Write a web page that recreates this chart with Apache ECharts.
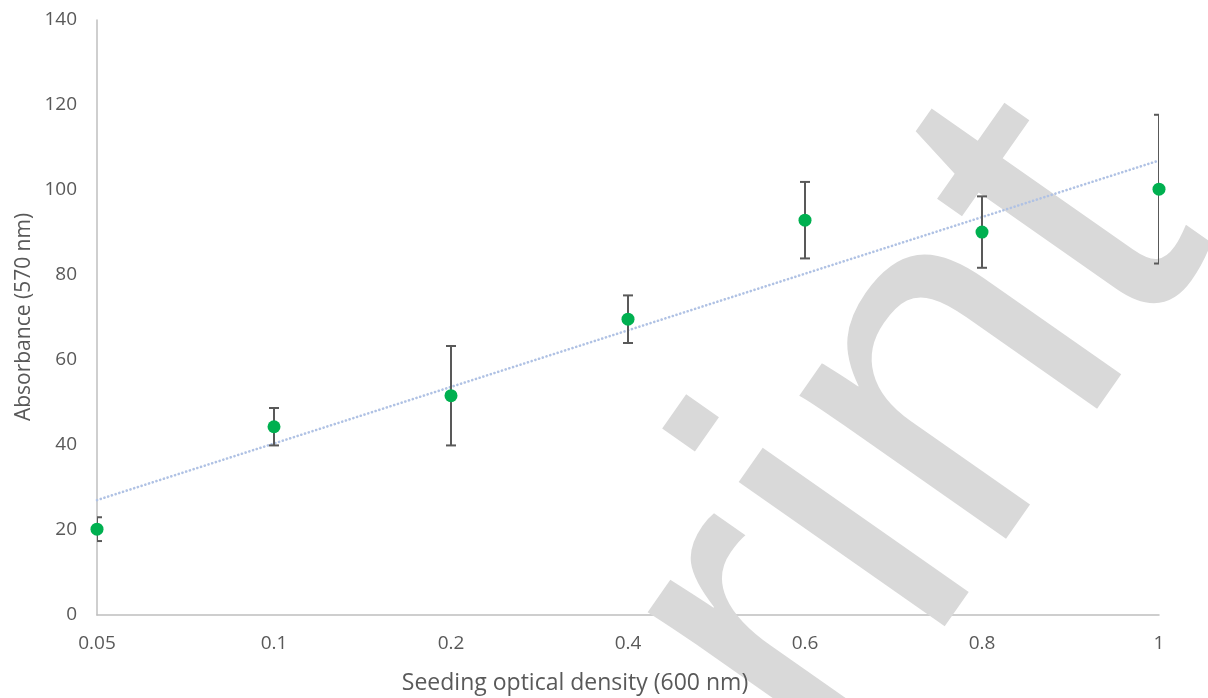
<!DOCTYPE html>
<html>
<head>
<meta charset="utf-8">
<title>Absorbance vs seeding optical density</title>
<script src="https://cdn.jsdelivr.net/npm/echarts@6/dist/echarts.min.js"></script>
<style>
  html, body { margin: 0; padding: 0; background: #ffffff; }
  #chart { width: 1208px; height: 698px; }
</style>
</head>
<body>
<div id="chart"></div>
<script>
// Seeding optical density (600 nm) groups
const categories = ['0.05', '0.1', '0.2', '0.4', '0.6', '0.8', '1'];
// Mean absorbance (570 nm) per group
const means = [20.2, 44.3, 51.6, 69.6, 92.9, 90.1, 100.2];
// Error bar half-widths per group
const errors = [2.8, 4.4, 11.7, 5.6, 9.0, 8.4, 17.5];
// Value axis range
const yMin = 0, yMax = 140, yStep = 20;
// Background stamp text
const watermarkText = 'rint';

const FONT = '"Open Sans", "Noto Sans", sans-serif';
const TEXT = '#595959';

// Least-squares linear trend over the category positions
function linearTrend(values) {
  const n = values.length;
  let sx = 0, sy = 0, sxx = 0, sxy = 0;
  values.forEach((v, i) => { sx += i; sy += v; sxx += i * i; sxy += i * v; });
  const slope = (n * sxy - sx * sy) / (n * sxx - sx * sx);
  const intercept = (sy - slope * sx) / n;
  return values.map((_, i) => [i, intercept + slope * i]);
}

const errorData = means.map((m, i) => [i, m - errors[i], m + errors[i]]);

function renderErrorBar(params, api) {
  const idx = api.value(0);
  const top = api.coord([idx, api.value(2)]);
  const bot = api.coord([idx, api.value(1)]);
  const half = 5;
  const style = { stroke: '#595959', lineWidth: 2 };
  return {
    type: 'group',
    children: [
      { type: 'line', shape: { x1: top[0], y1: top[1], x2: bot[0], y2: bot[1] }, style },
      { type: 'line', shape: { x1: top[0] - half, y1: top[1], x2: top[0] + half, y2: top[1] }, style },
      { type: 'line', shape: { x1: bot[0] - half, y1: bot[1], x2: bot[0] + half, y2: bot[1] }, style }
    ]
  };
}

const chart = echarts.init(document.getElementById('chart'), null, { renderer: 'canvas' });

chart.setOption({
  backgroundColor: '#ffffff',
  animation: false,
  grid: { left: 97, right: 49, top: 20, bottom: 83, containLabel: false },
  xAxis: {
    type: 'category',
    data: categories,
    boundaryGap: false,
    axisLine: { show: true, lineStyle: { color: '#bfbfbf', width: 1.5 } },
    axisTick: { show: false },
    axisLabel: { color: TEXT, fontFamily: FONT, fontSize: 19, margin: 19 },
    splitLine: { show: false }
  },
  yAxis: {
    type: 'value',
    min: yMin,
    max: yMax,
    interval: yStep,
    axisLine: { show: true, lineStyle: { color: '#bfbfbf', width: 1.5 } },
    axisTick: { show: false },
    axisLabel: { color: TEXT, fontFamily: FONT, fontSize: 19, margin: 20 },
    splitLine: { show: false }
  },
  graphic: [
    {
      type: 'text',
      z: 1,
      silent: true,
      x: 728,
      y: 707,
      rotation: 55 * Math.PI / 180,
      style: {
        text: watermarkText,
        font: '476px "Liberation Sans", Arial, sans-serif',
        fill: '#d9d9d9',
        align: 'left',
        verticalAlign: 'middle',
        blend: 'multiply'
      }
    },
    {
      type: 'text',
      z: 3,
      x: 575,
      y: 683,
      style: {
        text: 'Seeding optical density (600 nm)',
        font: '23px ' + FONT,
        fill: TEXT,
        align: 'center',
        verticalAlign: 'middle'
      }
    },
    {
      type: 'text',
      z: 3,
      x: 24,
      y: 317,
      rotation: Math.PI / 2,
      style: {
        text: 'Absorbance (570 nm)',
        font: '21px ' + FONT,
        fill: TEXT,
        align: 'center',
        verticalAlign: 'middle'
      }
    }
  ],
  series: [
    {
      name: 'Trend',
      type: 'line',
      data: linearTrend(means),
      symbol: 'none',
      z: 2,
      silent: true,
      lineStyle: { color: '#b0c2e4', width: 2.6, type: [0.1, 3.8], cap: 'round', opacity: 1 }
    },
    {
      name: 'Error',
      type: 'custom',
      data: errorData,
      renderItem: renderErrorBar,
      encode: { x: 0, y: [1, 2] },
      clip: true,
      z: 3
    },
    {
      name: 'Absorbance',
      type: 'scatter',
      data: means,
      symbol: 'circle',
      symbolSize: 13,
      itemStyle: { color: '#00b050', opacity: 1 },
      z: 4
    }
  ]
});
</script>
</body>
</html>
